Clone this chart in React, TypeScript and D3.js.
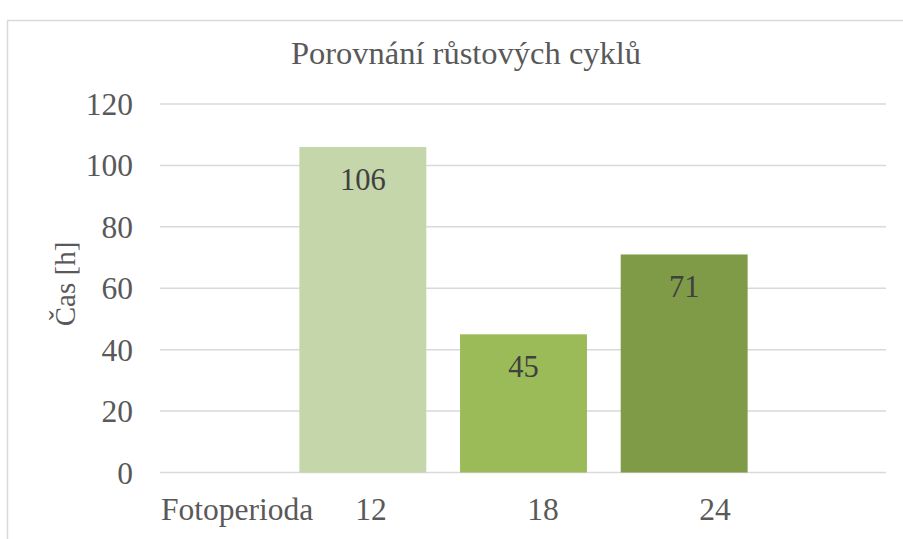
import { useRef, useEffect } from "react";
import * as d3 from "d3";

const title = "Porovnání růstových cyklů";
const yTitle = "Čas [h]";
const axisName = "Fotoperioda";
const categories = ["12", "18", "24"];
const values = [106, 45, 71];
const barColors = ["#C5D6AB", "#9BBB59", "#7F9B47"];
const yTicks = [0, 20, 40, 60, 80, 100, 120];

const width = 903;
const height = 539;
const font = "'Liberation Serif', 'Times New Roman', serif";

export default function App() {
  const ref = useRef<SVGSVGElement>(null);

  useEffect(() => {
    if (!ref.current) return;
    const svg = d3.select(ref.current);
    svg.selectAll("*").remove();

    // chart frame (cut off on the right and bottom like the source)
    svg
      .append("rect")
      .attr("x", 7.5)
      .attr("y", 20.5)
      .attr("width", 940)
      .attr("height", 560)
      .attr("fill", "#fff")
      .attr("stroke", "#D9D9D9")
      .attr("stroke-width", 1.5);

    const plotLeft = 160;
    const plotRight = 886;

    const y = d3.scaleLinear().domain([0, 120]).range([472.5, 104]);
    const x = d3
      .scaleBand<string>()
      .domain(categories)
      .range([282.5, 764.5])
      .paddingInner(0.21)
      .paddingOuter(0.105);
    // category labels sit a little off the bar centres in the source
    const xLabel = d3.scalePoint<string>().domain(categories).range([371, 715]);

    // Gridlines
    svg
      .append("g")
      .selectAll("line")
      .data(yTicks)
      .join("line")
      .attr("x1", plotLeft)
      .attr("x2", plotRight)
      .attr("y1", (d) => y(d))
      .attr("y2", (d) => y(d))
      .attr("stroke", "#D9D9D9")
      .attr("stroke-width", 1.5);

    // Y tick labels
    svg
      .append("g")
      .selectAll("text")
      .data(yTicks)
      .join("text")
      .attr("x", 133)
      .attr("y", (d) => y(d) + 11)
      .attr("text-anchor", "end")
      .attr("font-family", font)
      .attr("font-size", 31.5)
      .attr("fill", "#595959")
      .text((d) => d);

    // Bars
    svg
      .append("g")
      .selectAll("rect")
      .data(values)
      .join("rect")
      .attr("x", (_, i) => x(categories[i]) as number)
      .attr("y", (d) => y(d))
      .attr("width", x.bandwidth())
      .attr("height", (d) => y(0) - y(d))
      .attr("fill", (_, i) => barColors[i]);

    // Value labels
    svg
      .append("g")
      .selectAll("text")
      .data(values)
      .join("text")
      .attr("x", (_, i) => (x(categories[i]) as number) + x.bandwidth() / 2)
      .attr("y", (d) => y(d) + 43)
      .attr("text-anchor", "middle")
      .attr("font-family", font)
      .attr("font-size", 30.5)
      .attr("fill", "#404040")
      .text((d) => d);

    // X labels
    svg
      .append("text")
      .attr("x", 161)
      .attr("y", 520)
      .attr("font-family", font)
      .attr("font-size", 31.5)
      .attr("fill", "#595959")
      .text(axisName);
    svg
      .append("g")
      .selectAll("text")
      .data(categories)
      .join("text")
      .attr("x", (d) => xLabel(d) as number)
      .attr("y", 520)
      .attr("text-anchor", "middle")
      .attr("font-family", font)
      .attr("font-size", 31.5)
      .attr("fill", "#595959")
      .text((d) => d);

    // Title
    svg
      .append("text")
      .attr("x", 466)
      .attr("y", 64)
      .attr("text-anchor", "middle")
      .attr("font-family", font)
      .attr("font-size", 32.5)
      .attr("fill", "#595959")
      .text(title);

    // Y axis title
    svg
      .append("text")
      .attr("transform", "translate(75, 284) rotate(-90)")
      .attr("text-anchor", "middle")
      .attr("font-family", font)
      .attr("font-size", 29)
      .attr("fill", "#595959")
      .text(yTitle);
  }, []);

  return (
    <svg
      ref={ref}
      width={width}
      height={height}
      style={{ position: "absolute", left: 0, top: 0, background: "#fff" }}
    />
  );
}
